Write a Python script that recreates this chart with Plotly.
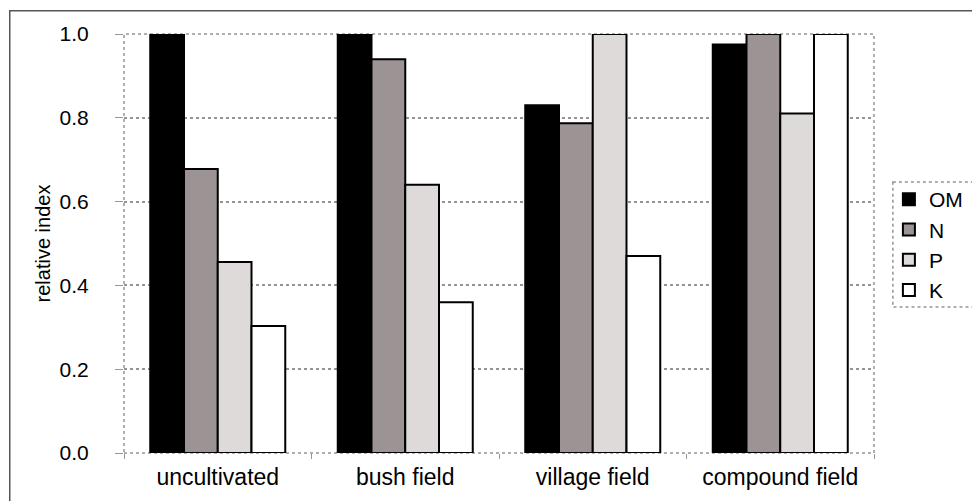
import plotly.graph_objects as go

categories = ["uncultivated", "bush field", "village field", "compound field"]
series_names = ["OM", "N", "P", "K"]
om_values = [1.0, 1.0, 0.83, 0.975]
n_values = [0.678, 0.94, 0.787, 1.0]
p_values = [0.456, 0.64, 1.0, 0.81]
k_values = [0.303, 0.36, 0.47, 1.0]
y_ticks = [0.0, 0.2, 0.4, 0.6, 0.8, 1.0]

# page has an 8px body margin; work in figure pixels = reference pixels - 8
OFF = 8
W, H = 972, 493
L, R, T, B = 124 - OFF, 101, 34 - OFF, 48
pw, ph = W - L - R, H - T - B

def px_x(x):
    return (x - OFF - L) / pw

def px_y(y):
    return (H - B - (y - OFF)) / ph

fills = ["#000000", "#9c9494", "#dedada", "#ffffff"]
fig = go.Figure()
for name, vals, col in zip(series_names, [om_values, n_values, p_values, k_values], fills):
    fig.add_trace(go.Bar(
        x=categories, y=vals, name=name,
        marker=dict(color=col, line=dict(color="#000000", width=2)),
    ))

grid = "#9a9292"
fig.update_layout(
    width=W, height=H,
    margin=dict(l=L, r=R, t=T, b=B),
    paper_bgcolor="white", plot_bgcolor="white",
    barmode="group", bargap=0.28, bargroupgap=0.0,
    font=dict(family="Liberation Sans, Arial, sans-serif", color="#000000", size=21),
    showlegend=True,
    legend=dict(
        x=px_x(894), y=px_y(179), xanchor="left", yanchor="top",
        font=dict(size=21, color="#000000"),
        bgcolor="rgba(0,0,0,0)", borderwidth=0,
        itemwidth=30, tracegroupgap=0,
    ),
    xaxis=dict(
        showgrid=False, zeroline=False, showline=False,
        ticks="outside", tickson="boundaries", ticklen=5, tickcolor=grid,
        ticklabelstandoff=8,
        tickfont=dict(size=23, color="#000000"),
    ),
    yaxis=dict(
        range=[0, 1.0], tickvals=y_ticks, ticktext=[f"{v:.1f}" for v in y_ticks],
        showgrid=True, gridcolor=grid, griddash="dot", gridwidth=1.5,
        zeroline=False, showline=False,
        ticks="outside", ticklen=8, tickcolor=grid,
        ticklabelstandoff=22,
        tickfont=dict(size=21, color="#000000"),
        title=dict(text="relative index", font=dict(size=20, color="#000000"), standoff=3),
    ),
    shapes=[
        dict(type="rect", xref="paper", yref="paper", x0=0, x1=1, y0=0, y1=1,
             line=dict(color=grid, width=1.5, dash="dot"), layer="below"),
        dict(type="rect", xref="paper", yref="paper",
             x0=px_x(898), x1=px_x(1000), y0=px_y(182), y1=px_y(307),
             line=dict(color=grid, width=1.5, dash="dot")),
        dict(type="rect", xref="paper", yref="paper",
             x0=px_x(8.5), x1=px_x(979.5), y0=px_y(11.5), y1=px_y(10),
             fillcolor="#555555", line=dict(width=0)),
        dict(type="line", xref="paper", yref="paper",
             x0=px_x(9), x1=px_x(9), y0=px_y(10), y1=px_y(520),
             line=dict(color="#555555", width=1.5)),
    ],
)

fig.write_html("out.html")
